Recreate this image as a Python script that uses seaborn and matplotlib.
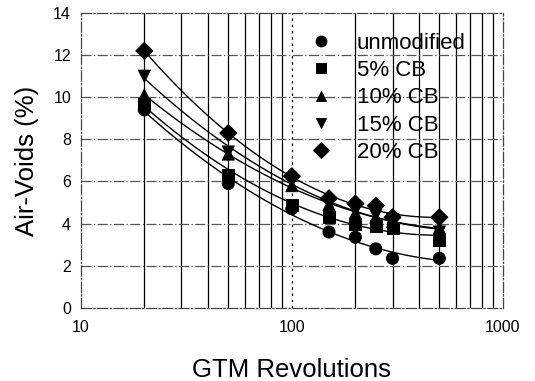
import pandas as pd
import numpy as np
import seaborn as sns
import matplotlib.pyplot as plt
from matplotlib.ticker import FixedLocator, NullFormatter

sns.set_style("white")
plt.rcParams['font.family'] = ['Liberation Sans', 'DejaVu Sans']
plt.rcParams['text.color'] = 'black'
plt.rcParams['axes.labelcolor'] = 'black'
plt.rcParams['xtick.color'] = 'black'
plt.rcParams['ytick.color'] = 'black'

revs = [20, 50, 100, 150, 200, 250, 300, 500]
unmodified = [9.4, 5.9, 4.7, 3.6, 3.35, 2.8, 2.35, 2.35]
cb5 = [9.7, 6.3, 4.9, 4.3, 4.0, 3.9, 3.8, 3.2]
cb10 = [10.1, 7.3, 5.8, 4.9, 4.5, 4.3, 4.1, 3.8]
cb15 = [11.0, 7.4, 6.0, 5.0, 4.6, 4.4, 4.2, 3.6]
cb20 = [12.2, 8.3, 6.25, 5.2, 4.95, 4.85, 4.3, 4.3]

names = ["unmodified", "5% CB", "10% CB", "15% CB", "20% CB"]
series = [unmodified, cb5, cb10, cb15, cb20]
markers = ["o", "s", "^", "v", "D"]

df = pd.concat([pd.DataFrame({"rev": revs, "av": v, "mix": n}) for n, v in zip(names, series)])

# smooth fitted curves (quadratic in log x)
fits = []
xs = np.logspace(np.log10(20), np.log10(500), 80)
for n, v in zip(names, series):
    c = np.polyfit(np.log10(revs), v, 2)
    fits.append(pd.DataFrame({"rev": xs, "av": np.polyval(c, np.log10(xs)), "mix": n}))
fit = pd.concat(fits)

fig = plt.figure(figsize=(5.35, 3.81), dpi=100)
ax = fig.add_axes([0.151, 0.192, 0.789, 0.774])
ax.set_xscale("log")

# grid
for x in list(range(20, 100, 10)) + list(range(200, 1000, 100)):
    ax.axvline(x, color="black", lw=0.9, zorder=0)
ax.axvline(100, color="black", lw=0.9, ls=(0, (2, 3)), zorder=0)
for y in range(2, 14, 2):
    ax.axhline(y, color="#555555", lw=0.9, ls=(0, (8, 2, 1, 2)), zorder=0)

sns.lineplot(data=fit, x="rev", y="av", units="mix", estimator=None, color="black", lw=1.0, ax=ax, legend=False)
sns.scatterplot(data=df, x="rev", y="av", style="mix", markers=dict(zip(names, markers)),
                color="black", s=75, edgecolor="black", ax=ax, zorder=5)

ax.set_xlim(10, 1000)
ax.set_ylim(0, 14)
ax.set_yticks(range(0, 15, 2))
ax.xaxis.set_major_locator(FixedLocator([10, 100, 1000]))
ax.xaxis.set_minor_formatter(NullFormatter())
ax.set_xticklabels(["10", "100", "1000"])
ax.tick_params(labelsize=11.5, length=0)
ax.tick_params(axis="x", pad=9)
ax.tick_params(axis="y", pad=7)
ax.set_xlabel("GTM Revolutions", fontsize=18.5, labelpad=16)
ax.set_ylabel("Air-Voids (%)", fontsize=18.5, labelpad=10)
for s in ax.spines.values():
    s.set_color("#444444")
    s.set_linestyle((0, (8, 2, 1, 2)))
    s.set_linewidth(0.9)

leg = ax.legend(loc="upper left", bbox_to_anchor=(0.49, 1.0), frameon=False, fontsize=16,
                handletextpad=1.0, handlelength=1.2, labelspacing=0.28, markerscale=0.9)

fig.savefig("out.png", dpi=100)
